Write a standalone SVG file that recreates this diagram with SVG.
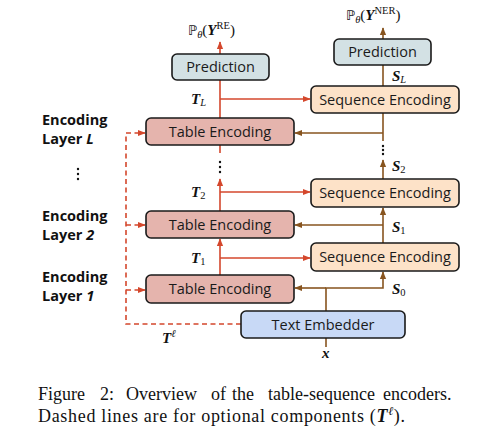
<svg xmlns="http://www.w3.org/2000/svg" width="483" height="437" viewBox="0 0 483 437">
<style>
.box{stroke:#1a1a1a;stroke-width:1.6}
.pred{fill:#d3e1e4}
.seq{fill:#fde2c8}
.tab{fill:#e5b4ad}
.emb{fill:#c8d9f6}
.bt{font-family:"Open Sans","Noto Sans",sans-serif;font-size:14.5px;fill:#1a1a1a;text-anchor:middle}
.lay{font-family:"Open Sans","Noto Sans",sans-serif;font-size:14.5px;font-weight:bold;fill:#111}
.m{font-family:"Liberation Serif","DejaVu Serif",serif;font-size:15px;font-weight:bold;font-style:italic;fill:#111}
.sub{font-family:"Liberation Serif","DejaVu Serif",serif;font-size:10.5px;font-style:normal;font-weight:normal}
.it{font-style:italic}
.r{stroke:#d4472c;stroke-width:1.6;fill:none}
.b{stroke:#87541f;stroke-width:1.6;fill:none}
.d{stroke:#d4472c;stroke-width:1.6;fill:none;stroke-dasharray:5,3.5}
.cap{font-family:"Liberation Serif","Times New Roman",serif;font-size:18px;fill:#111}
</style>
<defs>
<marker id="ar" viewBox="0 0 10 10" refX="9" refY="5" markerWidth="5" markerHeight="5" orient="auto"><path d="M0,1 L10,5 L0,9 z" fill="#d4472c"/></marker>
<marker id="ab" viewBox="0 0 10 10" refX="9" refY="5" markerWidth="5" markerHeight="5" orient="auto"><path d="M0,1 L10,5 L0,9 z" fill="#87541f"/></marker>
</defs>
<g id="connectors">
<path class="r" d="M220,118 V80"/>
<path class="r" d="M220,54 V42" marker-end="url(#ar)"/>
<path class="r" d="M220,99 H310" marker-end="url(#ar)"/>
<path class="r" d="M220,145 V153"/>
<path class="r" d="M220,211 V179" marker-end="url(#ar)"/>
<path class="r" d="M220,192 H310" marker-end="url(#ar)"/>
<path class="r" d="M220,275 V239" marker-end="url(#ar)"/>
<path class="r" d="M220,258 H310" marker-end="url(#ar)"/>
<path class="b" d="M383,86 V65"/>
<path class="b" d="M383,39 V28" marker-end="url(#ab)"/>
<path class="b" d="M383,113 V141"/>
<path class="b" d="M383,133 H295" marker-end="url(#ab)"/>
<path class="b" d="M383,179 V160" marker-end="url(#ab)"/>
<path class="b" d="M383,243 V208" marker-end="url(#ab)"/>
<path class="b" d="M383,225 H295" marker-end="url(#ab)"/>
<path class="b" d="M326,311 V288 H383 V272" marker-end="url(#ab)"/>
<path class="b" d="M326,288 H295" marker-end="url(#ab)"/>
<path class="b" d="M326,338 V347"/>
<path class="d" d="M241,324 H126 V133"/>
<path class="d" d="M126,133 H145" marker-end="url(#ar)"/>
<path class="d" d="M126,225 H145" marker-end="url(#ar)"/>
<path class="d" d="M126,290 H145" marker-end="url(#ar)"/>
<g fill="#111">
<circle cx="220" cy="162" r="1.2"/><circle cx="220" cy="167" r="1.2"/><circle cx="220" cy="172" r="1.2"/>
<circle cx="383" cy="146" r="1.2"/><circle cx="383" cy="150" r="1.2"/><circle cx="383" cy="154" r="1.2"/>
<circle cx="78" cy="169" r="1.2"/><circle cx="78" cy="174" r="1.2"/><circle cx="78" cy="179" r="1.2"/>
</g>
</g>
<g id="predRE"><rect class="box pred" x="172" y="54" width="97" height="26" rx="5"/><text class="bt" x="220.5" y="72">Prediction</text></g>
<g id="predNER"><rect class="box pred" x="334" y="39" width="97" height="26" rx="5"/><text class="bt" x="382.5" y="57">Prediction</text></g>
<g id="seqL"><rect class="box seq" x="311" y="86" width="148" height="27" rx="5"/><text class="bt" x="385" y="104.5">Sequence Encoding</text></g>
<g id="tabL"><rect class="box tab" x="146" y="118" width="148" height="27" rx="5"/><text class="bt" x="220" y="136.5">Table Encoding</text></g>
<g id="seq2"><rect class="box seq" x="311" y="179" width="148" height="28" rx="5"/><text class="bt" x="385" y="198">Sequence Encoding</text></g>
<g id="tab2"><rect class="box tab" x="146" y="211" width="148" height="27" rx="5"/><text class="bt" x="220" y="229.5">Table Encoding</text></g>
<g id="seq1"><rect class="box seq" x="311" y="243" width="148" height="28" rx="5"/><text class="bt" x="385" y="262">Sequence Encoding</text></g>
<g id="tab1"><rect class="box tab" x="146" y="275" width="148" height="28" rx="5"/><text class="bt" x="220" y="294">Table Encoding</text></g>
<g id="emb"><rect class="box emb" x="241" y="311" width="164" height="27" rx="5"/><text class="bt" x="323" y="329.5">Text Embedder</text></g>
<g id="labels">
<text class="m" x="188" y="35" font-style="normal" font-weight="normal"><tspan font-family="DejaVu Sans" font-size="13" font-weight="normal" font-style="normal">ℙ</tspan><tspan class="sub it" dy="3">θ</tspan><tspan dy="-3" font-weight="normal" font-style="normal">(</tspan><tspan font-weight="bold" font-style="italic">Y</tspan><tspan class="sub" dy="-6">RE</tspan><tspan dy="6" font-weight="normal" font-style="normal">)</tspan></text>
<text class="m" x="346" y="20" font-style="normal" font-weight="normal"><tspan font-family="DejaVu Sans" font-size="13" font-weight="normal" font-style="normal">ℙ</tspan><tspan class="sub it" dy="3">θ</tspan><tspan dy="-3" font-weight="normal" font-style="normal">(</tspan><tspan font-weight="bold" font-style="italic">Y</tspan><tspan class="sub" dy="-6">NER</tspan><tspan dy="6" font-weight="normal" font-style="normal">)</tspan></text>
<text class="m" x="191" y="104">T<tspan class="sub it" dy="2">L</tspan></text>
<text class="m" x="392" y="81">S<tspan class="sub it" dy="2">L</tspan></text>
<text class="m" x="392" y="171">S<tspan class="sub" dy="2">2</tspan></text>
<text class="m" x="191" y="197">T<tspan class="sub" dy="2">2</tspan></text>
<text class="m" x="392" y="232">S<tspan class="sub" dy="2">1</tspan></text>
<text class="m" x="191" y="263">T<tspan class="sub" dy="2">1</tspan></text>
<text class="m" x="392" y="294">S<tspan class="sub" dy="2">0</tspan></text>
<text class="m" x="162" y="343">T<tspan class="sub it" dy="-6">ℓ</tspan></text>
<text class="m" x="322" y="358">x</text>
<text class="lay" x="42" y="125">Encoding</text>
<text class="lay" x="42" y="144">Layer <tspan font-style="italic">L</tspan></text>
<text class="lay" x="42" y="221">Encoding</text>
<text class="lay" x="42" y="240">Layer <tspan font-style="italic">2</tspan></text>
<text class="lay" x="42" y="282">Encoding</text>
<text class="lay" x="42" y="301">Layer <tspan font-style="italic">1</tspan></text>
</g>
<g id="caption">
<text class="cap" y="400"><tspan x="38">Figure</tspan><tspan x="100">2:</tspan><tspan x="126">Overview</tspan><tspan x="211">of</tspan><tspan x="232">the</tspan><tspan x="268">table-sequence</tspan><tspan x="383">encoders.</tspan></text>
<text class="cap" x="38" y="422" textLength="367" lengthAdjust="spacing">Dashed lines are for optional components (<tspan font-weight="bold" font-style="italic">T</tspan><tspan font-size="12" dy="-7" font-style="italic">ℓ</tspan><tspan dy="7">).</tspan></text>
</g>
</svg>
